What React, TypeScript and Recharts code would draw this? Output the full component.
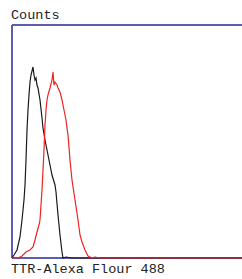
import React from 'react';
import { LineChart, Line, XAxis, YAxis, ReferenceLine } from 'recharts';

// Fluorescence channel (x) and counts (y)
const controlChannels = [0, 2, 5, 8, 10, 12, 13, 14, 15, 16, 17, 18, 19, 21, 22, 23, 24, 25, 26, 28, 30, 31, 33, 35, 38, 40, 43, 44, 46, 48, 50, 51, 54, 60, 100, 230];
const controlCounts = [0, 3, 8, 21, 38, 58, 73, 98, 128, 148, 163, 176, 183, 191, 183, 178, 180, 173, 170, 158, 140, 130, 118, 108, 93, 83, 73, 66, 43, 23, 6, 0, 1, 0, 0, 0];

const sampleChannels = [0, 6, 10, 14, 18, 21, 23, 25, 27, 28, 29, 30, 31, 32, 33, 34, 35, 36, 38, 40, 41, 42, 43, 45, 46, 48, 50, 52, 54, 55, 56, 58, 60, 63, 66, 68, 70, 73, 76, 80, 83, 88, 230];
const sampleCounts = [0, 0, 2, 6, 8, 11, 18, 26, 33, 38, 53, 68, 88, 108, 133, 148, 158, 163, 170, 178, 186, 173, 176, 173, 170, 166, 158, 148, 138, 130, 123, 98, 78, 58, 38, 23, 16, 8, 2, 0, 1, 0, 0];

const yTop = 233;

type Pt = { x: number; control?: number; sample?: number };
const rowsMap = new Map<number, Pt>();
controlChannels.forEach((x, i) => {
  const r = rowsMap.get(x) || { x };
  r.control = controlCounts[i];
  rowsMap.set(x, r);
});
sampleChannels.forEach((x, i) => {
  const r = rowsMap.get(x) || { x };
  r.sample = sampleCounts[i];
  rowsMap.set(x, r);
});
const rows = Array.from(rowsMap.values()).sort((a, b) => a.x - b.x);

const frame = '#5c5cb0';
const font = '"Liberation Mono", "DejaVu Sans Mono", monospace';

export default function App() {
  return (
    <div style={{ position: 'absolute', left: 0, top: 0, width: 242, height: 279, background: '#fff' }}>
      <LineChart width={242} height={279} data={rows} margin={{ top: 25, right: 0, bottom: 21, left: 12 }}>
        <XAxis dataKey="x" type="number" domain={[0, 230]} hide />
        <YAxis type="number" domain={[0, yTop]} hide />
        <ReferenceLine y={yTop} stroke={frame} strokeWidth={2} />
        <ReferenceLine y={0} stroke={frame} strokeWidth={2} />
        <ReferenceLine x={0} stroke={frame} strokeWidth={2} />
        <Line dataKey="control" type="linear" stroke="#1a1a1a" strokeWidth={1.2} dot={false} connectNulls isAnimationActive={false} />
        <Line dataKey="sample" type="linear" stroke="#ee2222" strokeWidth={1.2} dot={false} connectNulls isAnimationActive={false} />
      </LineChart>
      <div style={{ position: 'absolute', left: 11, top: 8, fontFamily: font, fontSize: 13.5, lineHeight: '16px', color: '#222' }}>Counts</div>
      <div style={{ position: 'absolute', left: 11, top: 262, fontFamily: font, fontSize: 13.5, lineHeight: '16px', color: '#222', whiteSpace: 'nowrap' }}>TTR-Alexa Flour 488</div>
    </div>
  );
}
